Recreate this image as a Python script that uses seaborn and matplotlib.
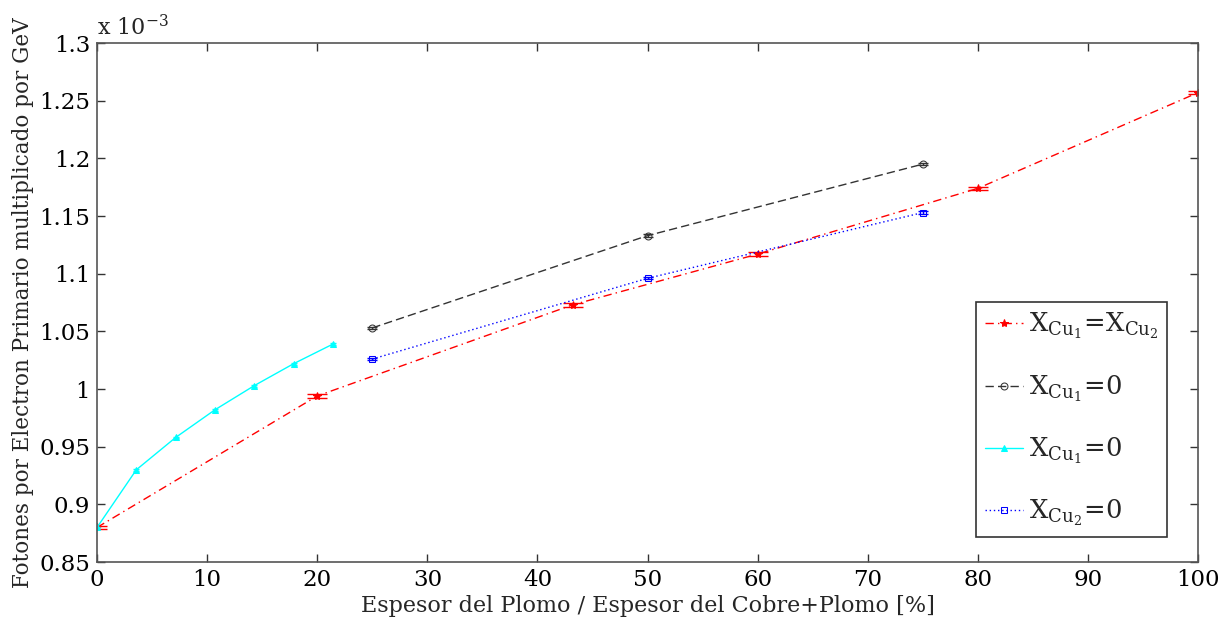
import numpy as np
import pandas as pd
import matplotlib
matplotlib.use("Agg")
import matplotlib.pyplot as plt
import seaborn as sns

# Data (values in units of 1e-3)
x_red = [0, 20, 43.2, 60, 80, 100]
y_red = [0.880, 0.994, 1.073, 1.117, 1.174, 1.257]
e_red = [0.0015, 0.0015, 0.0015, 0.0015, 0.0015, 0.0015]

x_black = [25, 50, 75]
y_black = [1.053, 1.133, 1.195]
e_black = [0.001, 0.001, 0.001]

x_cyan = [0, 3.57, 7.14, 10.71, 14.29, 17.86, 21.43]
y_cyan = [0.880, 0.930, 0.958, 0.982, 1.003, 1.022, 1.039]
e_cyan = [0.0008] * 7

x_blue = [25, 50, 75]
y_blue = [1.026, 1.096, 1.153]
e_blue = [0.001, 0.001, 0.001]

labels = [r"$\mathrm{X}_{\mathrm{Cu}_1}\!=\!\mathrm{X}_{\mathrm{Cu}_2}$",
          r"$\mathrm{X}_{\mathrm{Cu}_1}\!=\!0$",
          r"$\mathrm{X}_{\mathrm{Cu}_1}\!=\!0$",
          r"$\mathrm{X}_{\mathrm{Cu}_2}\!=\!0$"]
xticks = [0, 10, 20, 30, 40, 50, 60, 70, 80, 90, 100]
yticks = [0.85, 0.9, 0.95, 1.0, 1.05, 1.1, 1.15, 1.2, 1.25, 1.3]
ytick_labels = ["0.85", "0.9", "0.95", "1", "1.05", "1.1", "1.15", "1.2", "1.25", "1.3"]

sns.set_style("ticks")
plt.rcParams["font.family"] = ["DejaVu Serif", "DejaVu Sans"]
plt.rcParams["mathtext.fontset"] = "dejavuserif"

fig = plt.figure(figsize=(12.25, 6.28), dpi=100)
ax = fig.add_axes([0.0792, 0.105, 0.8988, 0.8265])

series = [
    (x_red, y_red, e_red, "red", (0, (6, 3, 1, 3)), "*", 6, 7.0),
    (x_black, y_black, e_black, "#333333", (0, (6, 3)), "o", 5, 3.6),
    (x_cyan, y_cyan, e_cyan, "cyan", "-", "^", 5, 2.5),
    (x_blue, y_blue, e_blue, "blue", (0, (1, 2)), "s", 5, 3.6),
]

for (xs, ys, es, c, ls, mk, ms, cap), lab in zip(series, labels):
    df = pd.DataFrame({"x": xs, "y": ys})
    sns.lineplot(data=df, x="x", y="y", ax=ax, color=c, linestyle=ls, linewidth=1.0,
                 marker=mk, markersize=ms, markerfacecolor="none" if mk in ("o", "s") else c,
                 markeredgecolor=c, label=lab)
    ax.errorbar(xs, ys, yerr=es, fmt="none", ecolor=c, capsize=cap, elinewidth=1.0, capthick=1.0)

ax.set_xlim(0, 100)
ax.set_ylim(0.85, 1.3)
ax.set_xticks(xticks)
ax.set_yticks(yticks)
ax.set_yticklabels(ytick_labels)
ax.tick_params(direction="in", top=True, right=True, length=6, width=1, labelsize=16.5,
               colors="#333333", labelcolor="black", pad=5)
for s in ax.spines.values():
    s.set_color("#555555")
    s.set_linewidth(1.2)

ax.set_xlabel("Espesor del Plomo / Espesor del Cobre+Plomo [%]", fontsize=16, labelpad=3)
ax.set_ylabel("Fotones por Electron Primario multiplicado por GeV", fontsize=15.5, labelpad=4)
ax.text(0.0, 1.005, r"x 10$^{-3}$", transform=ax.transAxes, fontsize=16, ha="left", va="bottom")

leg = ax.legend(loc="lower right", bbox_to_anchor=(0.972, 0.048), fontsize=18.5, frameon=True, fancybox=False,
                edgecolor="#333333", framealpha=1, handlelength=1.5, labelspacing=1.25, borderpad=0.35,
                handletextpad=0.2, borderaxespad=0)
leg.get_frame().set_linewidth(1.2)

fig.savefig("out.png", dpi=100)
